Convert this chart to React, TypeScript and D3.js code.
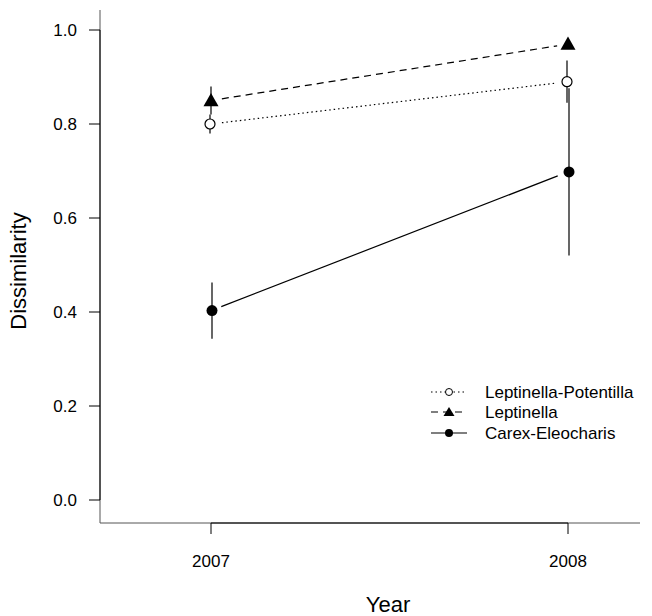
import React from "react";
import * as d3 from "d3";

const years = [2007, 2008];
const seriesNames = ["Leptinella-Potentilla", "Leptinella", "Carex-Eleocharis"];
const potentillaMean = [0.80, 0.89];
const potentillaErr = [0.02, 0.045];
const leptinellaMean = [0.85, 0.97];
const leptinellaErr = [0.03, 0.01];
const carexMean = [0.403, 0.698];
const carexErr = [0.06, 0.178];
const yTicks = [0, 0.2, 0.4, 0.6, 0.8, 1.0];

const W = 652, H = 616;
const left = 100, right = 640, top = 10, bottom = 523;
const font = "Liberation Sans, Arial, sans-serif";

export default function App() {
  const x = d3.scaleLinear().domain([2007, 2008]).range([211, 568]);
  const y = d3.scaleLinear().domain([0, 1]).range([500, 30]);

  const series = [
    { name: seriesNames[0], mean: potentillaMean, err: potentillaErr, dash: "1.5,3", shape: "open", dx: -1 },
    { name: seriesNames[1], mean: leptinellaMean, err: leptinellaErr, dash: "7,5", shape: "tri", dx: 0 },
    { name: seriesNames[2], mean: carexMean, err: carexErr, dash: null, shape: "dot", dx: 1 },
  ];

  const marker = (shape: string, cx: number, cy: number, key?: string) => {
    if (shape === "open") return <circle key={key} cx={cx} cy={cy} r={5} fill="white" stroke="black" strokeWidth={1.2} />;
    if (shape === "dot") return <circle key={key} cx={cx} cy={cy} r={5.5} fill="black" />;
    const s = 7.5;
    return <path key={key} d={`M${cx},${cy - s}L${cx + s},${cy + s * 0.75}L${cx - s},${cy + s * 0.75}Z`} fill="black" />;
  };

  const gap = 11;
  const seg = (x1: number, y1: number, x2: number, y2: number) => {
    const dx = x2 - x1, dy = y2 - y1;
    const L = Math.sqrt(dx * dx + dy * dy);
    const ux = dx / L, uy = dy / L;
    return [x1 + ux * gap, y1 + uy * gap, x2 - ux * gap, y2 - uy * gap];
  };

  const legendRows = [392, 412, 433];

  return (
    <svg width={W} height={H} style={{ position: "absolute", left: 0, top: 0, background: "white" }}>
      {/* box lines */}
      <line x1={left} y1={top} x2={left} y2={bottom} stroke="#555" strokeWidth={1} />
      <line x1={left} y1={bottom} x2={right} y2={bottom} stroke="#555" strokeWidth={1} />
      {/* y axis */}
      <line x1={left} y1={y(0)} x2={left} y2={y(1)} stroke="black" strokeWidth={1} />
      {yTicks.map((t) => (
        <g key={t}>
          <line x1={left - 11} x2={left} y1={y(t)} y2={y(t)} stroke="black" />
          <text x={left - 23} y={y(t)} dy="0.35em" textAnchor="end" fontFamily={font} fontSize={17}>
            {t.toFixed(1)}
          </text>
        </g>
      ))}
      {/* x axis */}
      <line x1={x(2007)} x2={x(2008)} y1={bottom} y2={bottom} stroke="black" strokeWidth={1.2} />
      {years.map((yr) => (
        <g key={yr}>
          <line x1={x(yr)} x2={x(yr)} y1={bottom} y2={bottom + 11} stroke="black" />
          <text x={x(yr)} y={567} textAnchor="middle" fontFamily={font} fontSize={17}>
            {yr}
          </text>
        </g>
      ))}
      <text x={388} y={612} textAnchor="middle" fontFamily={font} fontSize={22}>Year</text>
      <text transform={`translate(26,271) rotate(-90)`} textAnchor="middle" fontFamily={font} fontSize={22}>
        Dissimilarity
      </text>

      {/* error bars */}
      {series.map((s) =>
        years.map((yr, i) => (
          <line key={s.name + yr} x1={x(yr) + s.dx} x2={x(yr) + s.dx} y1={y(s.mean[i] - s.err[i])} y2={y(s.mean[i] + s.err[i])} stroke="black" strokeWidth={1.2} />
        ))
      )}
      {/* connecting lines */}
      {series.map((s) => {
        const [a, b, c, d] = seg(x(years[0]), y(s.mean[0]), x(years[1]), y(s.mean[1]));
        return <line key={s.name + "l"} x1={a} y1={b} x2={c} y2={d} stroke="black" strokeWidth={1.2} strokeDasharray={s.dash ?? undefined} />;
      })}
      {/* markers */}
      {series.map((s) => years.map((yr, i) => marker(s.shape, x(yr) + s.dx, y(s.mean[i]), s.name + yr + "m")))}

      {/* legend */}
      {series.map((s, i) => (
        <g key={s.name + "leg"}>
          <line x1={431} x2={467} y1={legendRows[i]} y2={legendRows[i]} stroke="black" strokeWidth={1.2} strokeDasharray={s.dash ?? undefined} />
          {s.shape === "open" ? (
            <circle cx={449} cy={legendRows[i]} r={3.5} fill="white" stroke="black" />
          ) : s.shape === "dot" ? (
            <circle cx={449} cy={legendRows[i]} r={4} fill="black" />
          ) : (
            <path d={`M449,${legendRows[i] - 5}L454.5,${legendRows[i] + 4}L443.5,${legendRows[i] + 4}Z`} fill="black" />
          )}
          <text x={485} y={legendRows[i]} dy="0.35em" fontFamily={font} fontSize={17}>{s.name}</text>
        </g>
      ))}
    </svg>
  );
}
